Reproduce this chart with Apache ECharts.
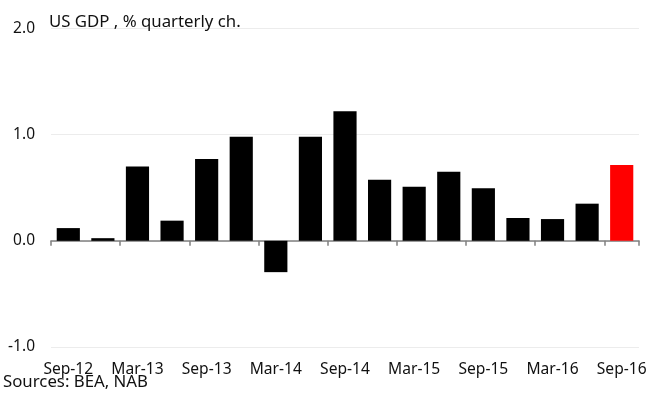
<!DOCTYPE html>
<html><head><meta charset="utf-8">
<script src="https://cdn.jsdelivr.net/npm/echarts@6/dist/echarts.min.js"></script>
<style>html,body{margin:0;padding:0;background:#fff}#c{width:651px;height:401px}</style>
</head><body><div id="c"></div>
<script>
var categories = ['Sep-12','Dec-12','Mar-13','Jun-13','Sep-13','Dec-13','Mar-14','Jun-14','Sep-14','Dec-14','Mar-15','Jun-15','Sep-15','Dec-15','Mar-16','Jun-16','Sep-16'];
var gdpValues = [0.12,0.025,0.70,0.19,0.77,0.98,-0.295,0.98,1.22,0.575,0.51,0.65,0.495,0.215,0.205,0.35,0.715];
var highlightIndex = 16;
var yTicks = [-1,0,1,2];
var titleText = 'US GDP , % quarterly ch.';
var sourceText = 'Sources: BEA, NAB';

var font = 'Noto Sans';
var chart = echarts.init(document.getElementById('c'), null, {renderer:'canvas'});
var data = gdpValues.map(function(v,i){
  return {value:v, itemStyle:{color: i===highlightIndex ? '#ff0000' : '#000000'}};
});
chart.setOption({
  animation:false,
  backgroundColor:'#fff',
  title:[
    {text:titleText, left:49, top:13, padding:0, textStyle:{fontFamily:font, fontSize:16.8, fontWeight:'normal', color:'#111', lineHeight:18}},
    {text:sourceText, left:3, top:373, padding:0, textStyle:{fontFamily:font, fontSize:16.8, fontWeight:'normal', color:'#111', lineHeight:18}}
  ],
  grid:{left:51, right:12, top:28.5, bottom:54, containLabel:false},
  xAxis:[
    {type:'category', data:categories, position:'bottom',
     axisLine:{onZero:true, lineStyle:{color:'#808080', width:1.5}},
     axisTick:{show:true, interval:1, length:5, lineStyle:{color:'#808080', width:1.5}},
     axisLabel:{show:false}, splitLine:{show:false}},
    {type:'category', data:categories, position:'bottom', offset:0,
     axisLine:{show:false, onZero:false}, axisTick:{show:false},
     axisLabel:{show:true, interval:1, margin:15, fontFamily:font, fontSize:15.6, color:'#111'},
     splitLine:{show:false}}
  ],
  yAxis:{type:'value', min:yTicks[0], max:yTicks[yTicks.length-1], interval:1,
    axisLine:{show:false}, axisTick:{show:false},
    axisLabel:{margin:16, fontFamily:font, fontSize:15.5, color:'#111', padding:[3,0,0,0], formatter:function(v){return v.toFixed(1);}},
    splitLine:{show:true, lineStyle:{color:'#ececec', width:1}}},
  series:[{type:'bar', data:data, xAxisIndex:0, barCategoryGap:'33%'}]
});
</script></body></html>
